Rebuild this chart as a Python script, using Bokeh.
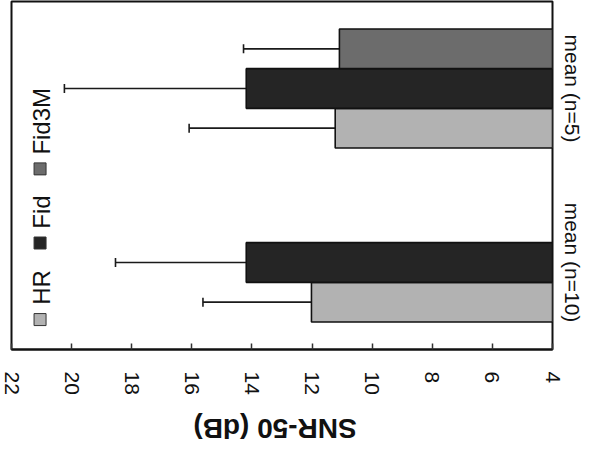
import math
from bokeh.plotting import figure
from bokeh.layouts import column
from bokeh.models import (ColumnDataSource, FactorRange, Range1d, Whisker, TeeHead,
                          Label, FixedTicker, Div)
from bokeh.transform import dodge
from bokeh.embed import file_html
from bokeh.resources import INLINE

# ---- data ----
categories = ["mean (n=10)", "mean (n=5)"]
series = ["HR", "Fid", "Fid3M"]
hr_mean = [12.02, 11.23]
fid_mean = [14.19, 14.19]
fid3m_mean = [float("nan"), 11.09]
hr_err = [3.61, 4.86]
fid_err = [4.35, 6.05]
fid3m_err = [float("nan"), 3.19]
x_ticks = [22, 20, 18, 16, 14, 12, 10, 8, 6, 4]
axis_title = "SNR-50 (dB)"

# ---- styles ----
colors = ["#b2b2b2", "#252525", "#6c6c6c"]
FONT = "Liberation Sans"
bar_h = 0.228
offsets = [-bar_h, 0.0, bar_h]

p = figure(width=592, height=397,
           y_range=FactorRange(*categories),
           x_range=Range1d(22, 4),
           output_backend="svg", toolbar_location=None,
           y_axis_location="right",
           min_border_left=11, min_border_top=1,
           min_border_right=40, min_border_bottom=48)
p.y_range.range_padding = 0

means = [hr_mean, fid_mean, fid3m_mean]
errs = [hr_err, fid_err, fid3m_err]
for name, m, e, c, off in zip(series, means, errs, colors, offsets):
    upper = [mm + ee for mm, ee in zip(m, e)]
    src = ColumnDataSource(dict(cat=categories, mean=m, upper=upper))
    w = Whisker(base=dodge("cat", off, range=p.y_range), lower="mean", upper="upper",
                dimension="width", source=src, line_color="#1a1a1a", line_width=1.6,
                upper_head=TeeHead(size=9, line_width=1.6, line_color="#1a1a1a"),
                lower_head=None)
    p.add_layout(w)
    p.hbar(y=dodge("cat", off, range=p.y_range), left=4, right="mean", height=bar_h,
           source=src, fill_color=c, line_color="#111111", line_width=1.6)

# ---- legend (drawn rotated, like the reference) ----
leg_x = 21.05
leg_tx_x = 21.0
leg_sq_y = [0.172, 0.612, 1.038]
leg_tx_y = [0.257, 0.694, 1.12]
p.scatter(x=[leg_x] * 3, y=leg_sq_y, marker="square", size=12,
          fill_color=colors, line_color="#333333", line_width=1)
for name, ty in zip(series, leg_tx_y):
    p.add_layout(Label(x=leg_tx_x, y=ty, text=name, angle=math.pi / 2,
                       text_align="left", text_baseline="middle",
                       text_font=FONT, text_font_size="24px", text_color="#111111"))

# ---- axes & frame ----
p.xgrid.visible = False
p.ygrid.visible = False
p.outline_line_color = "#111111"
p.outline_line_width = 2

xa = p.xaxis[0]
xa.ticker = FixedTicker(ticks=x_ticks)
xa.major_label_orientation = "vertical"
xa.major_label_text_font = FONT
xa.major_label_text_font_size = "21px"
xa.major_label_text_color = "#111111"
xa.major_label_standoff = 22
xa.major_tick_in = 6
xa.major_tick_out = 0
xa.major_tick_line_width = 1.5
xa.major_tick_line_color = "#333333"
xa.minor_tick_line_color = None
xa.axis_line_width = 2
xa.axis_line_color = "#111111"

ya = p.yaxis[0]
ya.major_label_orientation = "vertical"
ya.major_label_text_font = FONT
ya.major_label_text_font_size = "21px"
ya.major_label_text_color = "#111111"
ya.major_label_standoff = 2
ya.major_tick_line_color = None
ya.minor_tick_line_color = None
ya.axis_line_color = None

# ---- value-axis title, upside down as in the reference ----
title = Div(text=axis_title, width=540, height=37,
            styles={"transform": "rotate(180deg)",
                    "font-family": FONT, "font-size": "28px",
                    "font-weight": "bold", "line-height": "22px",
                    "text-align": "center", "color": "#111111"})

layout = column(p, title, spacing=0)
open("out.html", "w").write(file_html(layout, INLINE))
